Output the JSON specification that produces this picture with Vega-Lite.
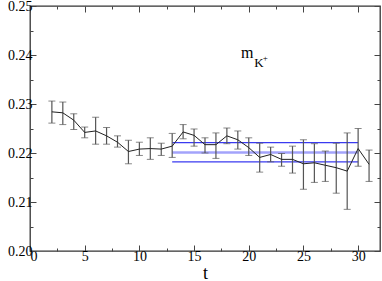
{
  "$schema": "https://vega.github.io/schema/vega-lite/v6.json",
  "width": 350,
  "height": 245,
  "autosize": "none",
  "padding": {"left": 30, "top": 6, "right": 2, "bottom": 30},
  "background": "white",
  "config": {
    "font": "Liberation Serif, Times New Roman, serif",
    "view": {"stroke": "#333", "strokeWidth": 1.3},
    "axis": {
      "grid": false,
      "domain": false,
      "labelFont": "Liberation Serif, Times New Roman, serif",
      "labelFontSize": 14,
      "labelColor": "black",
      "titleFont": "Liberation Serif, Times New Roman, serif",
      "titleFontSize": 18,
      "titleFontWeight": "normal",
      "titleColor": "black",
      "tickColor": "#444",
      "tickWidth": 1
    }
  },
  "datasets": {
    "pts": [
      {"t": 2, "m": 0.2284, "lo": 0.2261, "hi": 0.2306},
      {"t": 3, "m": 0.2282, "lo": 0.2258, "hi": 0.2304},
      {"t": 4, "m": 0.2267, "lo": 0.2248, "hi": 0.2280},
      {"t": 5, "m": 0.2242, "lo": 0.2231, "hi": 0.2253},
      {"t": 6, "m": 0.2245, "lo": 0.2218, "hi": 0.2273},
      {"t": 7, "m": 0.2235, "lo": 0.2218, "hi": 0.2252},
      {"t": 8, "m": 0.2222, "lo": 0.2212, "hi": 0.2235},
      {"t": 9, "m": 0.2203, "lo": 0.2178, "hi": 0.2226},
      {"t": 10, "m": 0.2208, "lo": 0.2195, "hi": 0.2222},
      {"t": 11, "m": 0.2209, "lo": 0.2187, "hi": 0.2231},
      {"t": 12, "m": 0.2208, "lo": 0.2195, "hi": 0.2220},
      {"t": 13, "m": 0.2214, "lo": 0.2191, "hi": 0.2240},
      {"t": 14, "m": 0.2243, "lo": 0.2229, "hi": 0.2258},
      {"t": 15, "m": 0.2236, "lo": 0.2214, "hi": 0.2249},
      {"t": 16, "m": 0.2217, "lo": 0.2200, "hi": 0.2231},
      {"t": 17, "m": 0.2217, "lo": 0.2189, "hi": 0.2241},
      {"t": 18, "m": 0.2235, "lo": 0.2219, "hi": 0.2251},
      {"t": 19, "m": 0.2227, "lo": 0.2208, "hi": 0.2245},
      {"t": 20, "m": 0.2211, "lo": 0.2195, "hi": 0.2231},
      {"t": 21, "m": 0.2191, "lo": 0.2161, "hi": 0.2220},
      {"t": 22, "m": 0.2197, "lo": 0.2182, "hi": 0.2212},
      {"t": 23, "m": 0.2187, "lo": 0.2173, "hi": 0.2199},
      {"t": 24, "m": 0.2187, "lo": 0.2159, "hi": 0.2214},
      {"t": 25, "m": 0.2178, "lo": 0.2126, "hi": 0.2227},
      {"t": 26, "m": 0.2180, "lo": 0.2140, "hi": 0.2219},
      {"t": 27, "m": 0.2175, "lo": 0.2142, "hi": 0.2204},
      {"t": 28, "m": 0.2170, "lo": 0.2118, "hi": 0.2220},
      {"t": 29, "m": 0.2163, "lo": 0.2085, "hi": 0.2241},
      {"t": 30, "m": 0.2209, "lo": 0.2173, "hi": 0.2250},
      {"t": 31, "m": 0.2177, "lo": 0.2142, "hi": 0.2206}
    ],
    "fit": [
      {"t0": 13, "t1": 30, "v": 0.2221, "kind": "edge"},
      {"t0": 13, "t1": 30, "v": 0.2201, "kind": "center"},
      {"t0": 13, "t1": 30, "v": 0.2182, "kind": "edge"}
    ],
    "label": [
      {"part": "m", "x": 19.3, "y": 0.23947},
      {"part": "K", "x": 20.5, "y": 0.23763},
      {"part": "+", "x": 21.5, "y": 0.23943}
    ]
  },
  "resolve": {"axis": {"x": "independent", "y": "independent"}},
  "layer": [
    {
      "data": {"name": "fit"},
      "mark": {"type": "rule"},
      "encoding": {
        "x": {"field": "t0", "type": "quantitative", "scale": {"domain": [0, 32], "nice": false, "zero": false},
              "axis": {"orient": "bottom", "title": "t", "values": [0, 5, 10, 15, 20, 25, 30], "tickSize": -6, "labelPadding": 4, "titlePadding": 1}},
        "x2": {"field": "t1"},
        "y": {"field": "v", "type": "quantitative", "scale": {"domain": [0.2, 0.25], "nice": false, "zero": false},
              "axis": {"orient": "left", "title": null, "values": [0.2, 0.21, 0.22, 0.23, 0.24, 0.25], "format": ".2f", "tickSize": -6, "labelPadding": 4}},
        "color": {"field": "kind", "type": "nominal", "scale": {"domain": ["edge", "center"], "range": ["#3a3af0", "#a3a3fb"]}, "legend": null},
        "strokeWidth": {"field": "kind", "type": "nominal", "scale": {"domain": ["edge", "center"], "range": [1.2, 2.6]}, "legend": null}
      }
    },
    {
      "data": {"name": "pts"},
      "mark": {"type": "errorbar", "color": "#555", "ticks": {"size": 7, "color": "#555"}, "rule": {"color": "#555", "strokeWidth": 1.2}},
      "encoding": {
        "x": {"field": "t", "type": "quantitative", "axis": {"orient": "top", "title": null, "labels": false, "values": [0, 5, 10, 15, 20, 25, 30], "tickSize": -6}},
        "y": {"field": "lo", "type": "quantitative", "axis": {"orient": "right", "title": null, "labels": false, "values": [0.2, 0.21, 0.22, 0.23, 0.24, 0.25], "tickSize": -6}},
        "y2": {"field": "hi"}
      }
    },
    {
      "data": {"name": "pts"},
      "mark": {"type": "line", "color": "#222", "strokeWidth": 1},
      "encoding": {
        "x": {"field": "t", "type": "quantitative", "axis": {"orient": "bottom", "title": null, "labels": false, "values": [2.5, 7.5, 12.5, 17.5, 22.5, 27.5], "tickSize": -3}},
        "y": {"field": "m", "type": "quantitative", "axis": {"orient": "left", "title": null, "labels": false, "values": [0.205, 0.215, 0.225, 0.235, 0.245], "tickSize": -3}}
      }
    },
    {
      "data": {"name": "pts"},
      "mark": {"type": "point", "opacity": 0},
      "encoding": {
        "x": {"field": "t", "type": "quantitative", "axis": {"orient": "top", "title": null, "labels": false, "values": [2.5, 7.5, 12.5, 17.5, 22.5, 27.5], "tickSize": -3}},
        "y": {"field": "m", "type": "quantitative", "axis": {"orient": "right", "title": null, "labels": false, "values": [0.205, 0.215, 0.225, 0.235, 0.245], "tickSize": -3}}
      }
    },
    {
      "data": {"name": "label"},
      "transform": [{"filter": "datum.part == 'm'"}],
      "mark": {"type": "text", "font": "Liberation Serif, Times New Roman, serif", "fontSize": 16, "align": "left", "baseline": "alphabetic", "color": "black"},
      "encoding": {
        "x": {"field": "x", "type": "quantitative", "axis": null},
        "y": {"field": "y", "type": "quantitative", "axis": null},
        "text": {"field": "part"}
      }
    },
    {
      "data": {"name": "label"},
      "transform": [{"filter": "datum.part == 'K'"}],
      "mark": {"type": "text", "font": "Liberation Serif, Times New Roman, serif", "fontSize": 13, "align": "left", "baseline": "alphabetic", "color": "black"},
      "encoding": {
        "x": {"field": "x", "type": "quantitative", "axis": null},
        "y": {"field": "y", "type": "quantitative", "axis": null},
        "text": {"field": "part"}
      }
    },
    {
      "data": {"name": "label"},
      "transform": [{"filter": "datum.part == '+'"}],
      "mark": {"type": "text", "font": "Liberation Serif, Times New Roman, serif", "fontSize": 9, "align": "center", "baseline": "middle", "color": "black"},
      "encoding": {
        "x": {"field": "x", "type": "quantitative", "axis": null},
        "y": {"field": "y", "type": "quantitative", "axis": null},
        "text": {"field": "part"}
      }
    }
  ]
}
